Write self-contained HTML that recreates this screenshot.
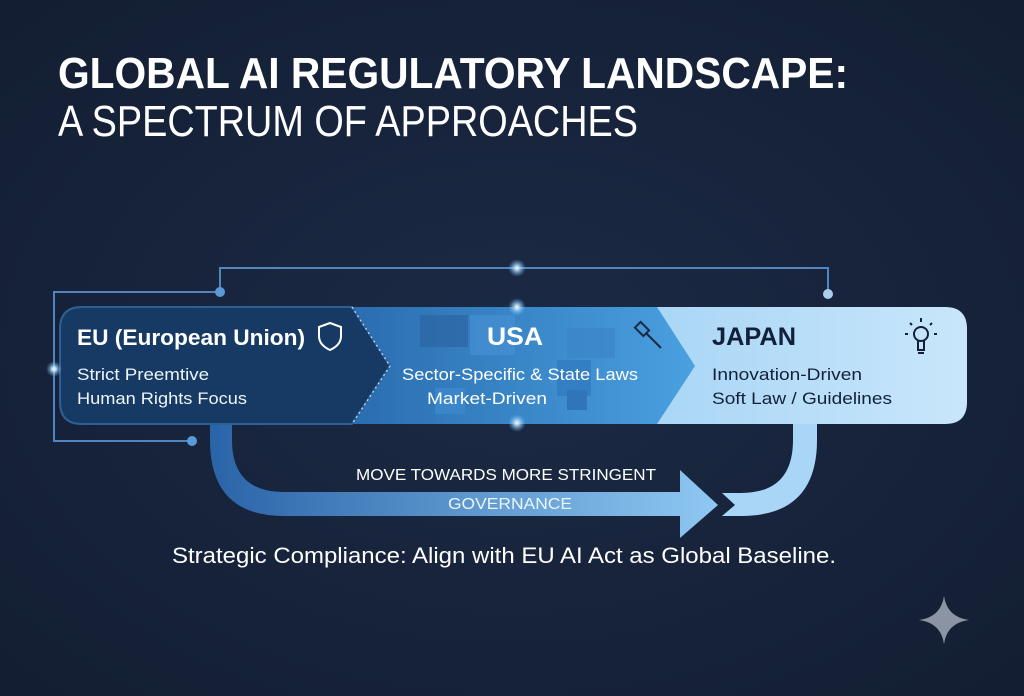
<!DOCTYPE html>
<html><head><meta charset="utf-8"><style>
html,body{margin:0;padding:0;background:#15223a;}
svg{display:block}
text{font-family:"Liberation Sans",sans-serif}
</style></head><body>
<svg width="1024" height="696" viewBox="0 0 1024 696" xmlns="http://www.w3.org/2000/svg">
<defs>
<radialGradient id="bg" cx="50%" cy="50%" r="75%">
<stop offset="0" stop-color="#1b2a45"/><stop offset="1" stop-color="#131d31"/></radialGradient>
<linearGradient id="usa" x1="0" x2="1"><stop offset="0" stop-color="#2a6db0"/><stop offset="1" stop-color="#4aa0e0"/></linearGradient>
<linearGradient id="jp" x1="0" x2="1"><stop offset="0" stop-color="#a9d6f6"/><stop offset="1" stop-color="#c8e6fb"/></linearGradient>
<linearGradient id="arr" x1="0" x2="1"><stop offset="0" stop-color="#2a64a8"/><stop offset="1" stop-color="#8fc8f2"/></linearGradient>
<radialGradient id="glow"><stop offset="0" stop-color="#fff"/><stop offset="0.3" stop-color="#bfe3ff" stop-opacity="0.8"/><stop offset="1" stop-color="#5aaaf0" stop-opacity="0"/></radialGradient>
</defs>
<rect width="1024" height="696" fill="url(#bg)"/>
<text x="58" y="88" font-size="44" font-weight="bold" fill="#fff" textLength="790" lengthAdjust="spacingAndGlyphs">GLOBAL AI REGULATORY LANDSCAPE:</text>
<text x="58" y="136" font-size="44" fill="#fff" textLength="580" lengthAdjust="spacingAndGlyphs">A SPECTRUM OF APPROACHES</text>

<g stroke="#4f86c0" stroke-width="2" fill="none">
<polyline points="220,292 220,268 828,268 828,294"/>
<polyline points="220,292 54,292 54,441 192,441"/>
</g>
<g fill="#5b9ad6"><circle cx="220" cy="292" r="5"/><circle cx="192" cy="441" r="5"/><circle cx="828" cy="294" r="5" fill="#a8cdef"/><circle cx="54" cy="369" r="3"/></g>

<path d="M210,424 L232,424 L232,440 Q232,492 284,492 L680,492 L680,470 L718,505 L680,538 L680,516 L284,516 Q210,516 210,440 Z" fill="url(#arr)"/>
<path d="M793,424 L817,424 L817,440 Q817,516 741,516 L722,516 L735,505 L722,493 L741,493 Q793,493 793,440 Z" fill="#a9d6f6"/>

<path d="M650,307 L945,307 Q967,307 967,329 L967,402 Q967,424 945,424 L650,424 Z" fill="url(#jp)"/>
<path d="M352,307 L657,307 L695,366 L657,424 L352,424 Z" fill="url(#usa)"/>
<g fill="#3b85c8" opacity="0.7"><rect x="420" y="315" width="48" height="32" fill="#2c65a3"/><rect x="470" y="315" width="45" height="40" fill="#4690d4"/><rect x="567" y="328" width="48" height="30"/><rect x="557" y="360" width="34" height="36" fill="#3079bf"/><rect x="567" y="390" width="20" height="20" fill="#2a6ab0"/><rect x="435" y="388" width="30" height="26" fill="#3f8ad0"/></g>
<path d="M82,307 L352,307 L390,366 L352,424 L82,424 Q60,424 60,402 L60,329 Q60,307 82,307 Z" fill="#173a64" stroke="#2e5f95" stroke-width="2"/>
<path d="M352,307 L390,366 L352,424" stroke="#a8d0f4" stroke-width="1.5" stroke-dasharray="2,3" fill="none"/>

<g fill="url(#glow)"><circle cx="517" cy="268" r="9"/><circle cx="517" cy="307" r="9"/><circle cx="517" cy="423" r="9"/><circle cx="54" cy="369" r="8"/></g>

<text x="77" y="345" font-size="22" font-weight="bold" fill="#fff" textLength="228" lengthAdjust="spacingAndGlyphs">EU (European Union)</text>
<path d="M330,323 L341,327 L341,336 Q341,345 330,350 Q319,345 319,336 L319,327 Z" fill="none" stroke="#fff" stroke-width="2"/>
<text x="77" y="380" font-size="17" fill="#eef4fb" textLength="132" lengthAdjust="spacingAndGlyphs">Strict Preemtive</text>
<text x="77" y="404" font-size="17" fill="#eef4fb" textLength="170" lengthAdjust="spacingAndGlyphs">Human Rights Focus</text>

<text x="515" y="345" font-size="25" font-weight="bold" fill="#fff" text-anchor="middle" textLength="56" lengthAdjust="spacingAndGlyphs">USA</text>
<g stroke="#1a2a44" stroke-width="2" fill="none"><rect x="638" y="323" width="8" height="12" transform="rotate(-45 642 329)"/><path d="M646,333 L661,348"/></g>
<text x="520" y="380" font-size="17" fill="#fff" text-anchor="middle" textLength="236" lengthAdjust="spacingAndGlyphs">Sector-Specific &amp; State Laws</text>
<text x="487" y="404" font-size="17" fill="#fff" text-anchor="middle" textLength="120" lengthAdjust="spacingAndGlyphs">Market-Driven</text>

<text x="712" y="345" font-size="25" font-weight="bold" fill="#13203a" textLength="84" lengthAdjust="spacingAndGlyphs">JAPAN</text>
<g stroke="#13203a" stroke-width="2" fill="none"><circle cx="921" cy="334" r="7"/><path d="M918,341 L918,350 L924,350 L924,341 M918,353 L924,353 M921,318 L921,322 M910,323 L912,325 M932,323 L930,325 M905,334 L908,334 M934,334 L937,334"/></g>
<text x="712" y="380" font-size="17" fill="#13203a" textLength="150" lengthAdjust="spacingAndGlyphs">Innovation-Driven</text>
<text x="712" y="404" font-size="17" fill="#13203a" textLength="180" lengthAdjust="spacingAndGlyphs">Soft Law / Guidelines</text>

<text x="506" y="480" font-size="16" fill="#fff" text-anchor="middle" textLength="300" lengthAdjust="spacingAndGlyphs">MOVE TOWARDS MORE STRINGENT</text>
<text x="510" y="509" font-size="16" fill="#eaf5ff" text-anchor="middle" textLength="124" lengthAdjust="spacingAndGlyphs">GOVERNANCE</text>

<text x="504" y="563" font-size="22" fill="#fff" text-anchor="middle" textLength="664" lengthAdjust="spacingAndGlyphs">Strategic Compliance: Align with EU AI Act as Global Baseline.</text>

<path d="M944,596 Q947,617 969,620 Q947,623 944,644 Q941,623 919,620 Q941,617 944,596 Z" fill="#8a94a3"/>
</svg>
</body></html>
